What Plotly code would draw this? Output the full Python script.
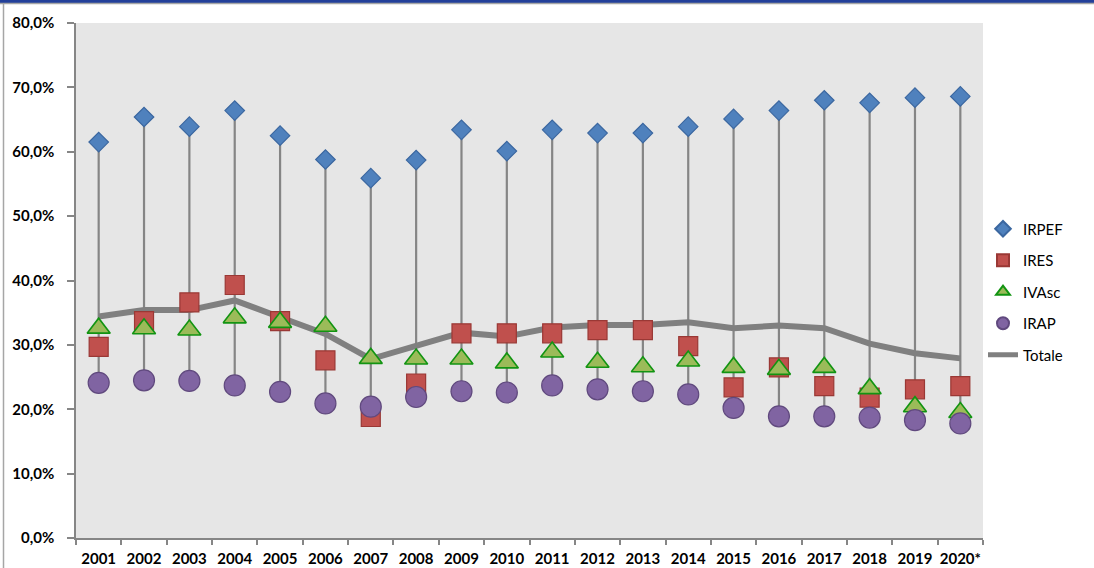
import plotly.graph_objects as go

years = ["2001", "2002", "2003", "2004", "2005", "2006", "2007", "2008", "2009", "2010",
         "2011", "2012", "2013", "2014", "2015", "2016", "2017", "2018", "2019", "2020*"]

irpef = [61.5, 65.4, 63.9, 66.4, 62.5, 58.8, 55.9, 58.7, 63.4, 60.1,
         63.4, 62.9, 62.9, 63.9, 65.1, 66.4, 68.0, 67.6, 68.4, 68.6]
ires = [29.7, 33.7, 36.6, 39.3, 33.7, 27.6, 18.8, 24.0, 31.8, 31.8,
        31.8, 32.3, 32.3, 29.8, 23.4, 26.5, 23.6, 21.8, 23.1, 23.6]
ivasc = [32.6, 32.5, 32.3, 34.2, 33.5, 32.9, 27.9, 27.8, 27.8, 27.2,
         28.9, 27.3, 26.6, 27.5, 26.5, 26.2, 26.5, 23.2, 20.4, 19.5]
irap = [24.1, 24.5, 24.4, 23.7, 22.7, 20.9, 20.4, 21.9, 22.8, 22.6,
        23.7, 23.1, 22.8, 22.3, 20.2, 18.9, 18.9, 18.7, 18.3, 17.8]
totale = [34.4, 35.4, 35.4, 36.9, 34.3, 31.7, 27.8, 29.8, 31.9, 31.3,
          32.7, 33.1, 33.1, 33.5, 32.6, 33.0, 32.6, 30.2, 28.7, 27.9]

y_ticks = [0, 10, 20, 30, 40, 50, 60, 70, 80]
y_ticktext = [f"{v:.1f}".replace(".", ",") + "%" for v in y_ticks]

# high-low lines (stems) from max to min of all series per year
stem_x, stem_y = [], []
for i, yr in enumerate(years):
    vals = [irpef[i], ires[i], ivasc[i], irap[i], totale[i]]
    stem_x += [yr, yr, None]
    stem_y += [max(vals), min(vals), None]

fig = go.Figure()

fig.add_trace(go.Scatter(x=stem_x, y=stem_y, mode="lines",
                         line=dict(color="#858585", width=2.2),
                         showlegend=False, hoverinfo="skip"))

fig.add_trace(go.Scatter(x=years, y=totale, mode="lines", name="Totale",
                         line=dict(color="#808080", width=6),
                         legendgroup="e", legendrank=5))

fig.add_trace(go.Scatter(x=years, y=irpef, mode="markers", name="IRPEF",
                         marker=dict(symbol="diamond", size=15, color="#4f81bd",
                                     line=dict(color="#3b67a0", width=1.2)),
                         legendgroup="a", legendrank=1))
fig.add_trace(go.Scatter(x=years, y=ires, mode="markers", name="IRES",
                         marker=dict(symbol="square", size=19, color="#c0504d",
                                     line=dict(color="#9a3835", width=1.2)),
                         legendgroup="b", legendrank=2))
fig.add_trace(go.Scatter(x=years, y=ivasc, mode="markers", name="IVAsc",
                         marker=dict(symbol="triangle-up", size=20, color="#9bbb59",
                                     line=dict(color="#129412", width=1.6)),
                         legendgroup="c", legendrank=3))
fig.add_trace(go.Scatter(x=years, y=irap, mode="markers", name="IRAP",
                         marker=dict(symbol="circle", size=21, color="#8064a2",
                                     line=dict(color="#60497e", width=1.2)),
                         legendgroup="d", legendrank=4))

L, R, T, B = 76, 111, 23, 30
W, H = 1094, 568
pw = W - L - R
ph = H - T - B

def px_x(px):
    return (px - L) / pw

def px_y(py):
    return (H - B - py) / ph

fig.update_layout(
    width=W, height=H,
    margin=dict(l=L, r=R, t=T, b=B, pad=0, autoexpand=False),
    paper_bgcolor="white",
    plot_bgcolor="#e6e6e6",
    font=dict(family="Lato, Open Sans, sans-serif", color="#000000"),
    legend=dict(x=px_x(983), y=px_y(292), xanchor="left", yanchor="middle",
                font=dict(size=15, family="Lato", color="#000000"),
                tracegroupgap=9, itemsizing="constant",
                bgcolor="rgba(0,0,0,0)"),
    showlegend=True,
    shapes=[
        dict(type="rect", xref="paper", yref="paper",
             x0=px_x(0), x1=px_x(W), y0=px_y(0), y1=px_y(3),
             fillcolor="#23409a", line=dict(width=0), layer="above"),
        dict(type="line", xref="paper", yref="paper",
             x0=px_x(0), x1=px_x(W), y0=px_y(3.5), y1=px_y(3.5),
             line=dict(color="#a6a6a6", width=1.5), layer="above"),
        dict(type="line", xref="paper", yref="paper",
             x0=px_x(3.5), x1=px_x(3.5), y0=px_y(3), y1=px_y(H),
             line=dict(color="#a6a6a6", width=1.5), layer="above"),
    ],
)

fig.update_xaxes(type="category", categoryorder="array", categoryarray=years,
                 range=[-0.5, len(years) - 0.5], autorange=False, automargin=False,
                 showgrid=False, zeroline=False,
                 showline=True, linecolor="#868686", linewidth=1.5,
                 ticks="outside", tickson="boundaries", ticklen=5,
                 tickcolor="#868686", tickwidth=1.5, tickangle=0,
                 tickfont=dict(size=15, family="Lato", weight="bold", color="#000000"),
                 ticklabelstandoff=6, fixedrange=True)
fig.update_yaxes(range=[0, 80], tickvals=y_ticks, ticktext=y_ticktext, automargin=False,
                 showgrid=False, zeroline=False,
                 showline=True, linecolor="#868686", linewidth=1.5,
                 ticks="outside", ticklen=7, tickcolor="#868686", tickwidth=1.5,
                 tickfont=dict(size=15, family="Lato", weight="bold", color="#000000"),
                 ticklabelstandoff=10, fixedrange=True)

for tr in fig.data:
    tr.cliponaxis = False

fig.write_html("out.html", config={"displayModeBar": False},
               post_script="document.body.style.margin='0';document.body.style.overflow='hidden';")
